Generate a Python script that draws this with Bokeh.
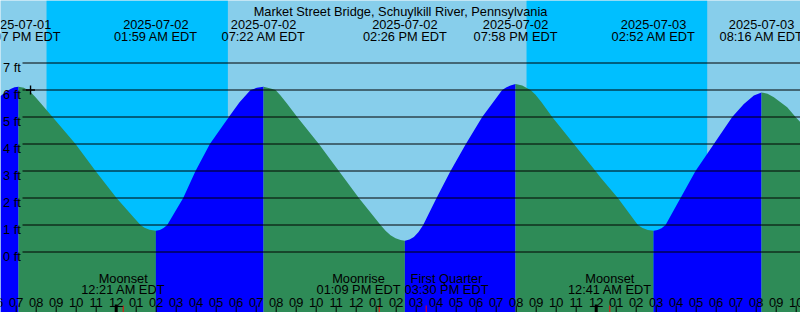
import numpy as np
import pandas as pd
from bokeh.plotting import figure
from bokeh.models import Range1d, BoxAnnotation, Label
from bokeh.core.properties import value
from bokeh.embed import file_html
from bokeh.resources import INLINE

# ---------------- data ----------------
TITLE = "Market Street Bridge, Schuylkill River, Pennsylvania"

tide_event_times = ["2025-07-01 19:07", "2025-07-02 01:59", "2025-07-02 07:22",
                    "2025-07-02 14:26", "2025-07-02 19:58", "2025-07-03 02:52",
                    "2025-07-03 08:16"]
tide_event_kinds = ["High", "Low", "High", "Low", "High", "Low", "High"]
tide_event_heights = [6.12, 0.79, 6.12, 0.42, 6.22, 0.79, 5.91]

# water level (feet)
curve_times = [
    "2025-07-01 18:13", "2025-07-01 18:28", "2025-07-01 18:43", "2025-07-01 18:55",
    "2025-07-01 19:07", "2025-07-01 19:23", "2025-07-01 19:40", "2025-07-01 19:56",
    "2025-07-01 20:13", "2025-07-01 20:31", "2025-07-01 20:49", "2025-07-01 21:58",
    "2025-07-01 22:58", "2025-07-02 00:01", "2025-07-02 00:52", "2025-07-02 01:13",
    "2025-07-02 01:25", "2025-07-02 01:40", "2025-07-02 01:59", "2025-07-02 02:11",
    "2025-07-02 02:22", "2025-07-02 02:33", "2025-07-02 03:21", "2025-07-02 03:58",
    "2025-07-02 04:41", "2025-07-02 05:38", "2025-07-02 06:10", "2025-07-02 06:43",
    "2025-07-02 07:02", "2025-07-02 07:22", "2025-07-02 07:43", "2025-07-02 07:58",
    "2025-07-02 08:13", "2025-07-02 08:31", "2025-07-02 09:03", "2025-07-02 10:08",
    "2025-07-02 11:08", "2025-07-02 12:08", "2025-07-02 13:13", "2025-07-02 13:28",
    "2025-07-02 13:43", "2025-07-02 13:58", "2025-07-02 14:13", "2025-07-02 14:26",
    "2025-07-02 14:40", "2025-07-02 14:53", "2025-07-02 15:07", "2025-07-02 15:21",
    "2025-07-02 16:01", "2025-07-02 16:43", "2025-07-02 17:29", "2025-07-02 18:18",
    "2025-07-02 19:18", "2025-07-02 19:31", "2025-07-02 19:43", "2025-07-02 19:58",
    "2025-07-02 20:18", "2025-07-02 20:43", "2025-07-02 20:58", "2025-07-02 21:16",
    "2025-07-02 21:48", "2025-07-02 22:53", "2025-07-02 23:58", "2025-07-03 00:13",
    "2025-07-03 01:05", "2025-07-03 02:05", "2025-07-03 02:19", "2025-07-03 02:35",
    "2025-07-03 02:52", "2025-07-03 03:04", "2025-07-03 03:16", "2025-07-03 03:28",
    "2025-07-03 04:13", "2025-07-03 04:58", "2025-07-03 05:53", "2025-07-03 06:48",
    "2025-07-03 07:23", "2025-07-03 07:53", "2025-07-03 08:16", "2025-07-03 08:34",
    "2025-07-03 08:53", "2025-07-03 09:33", "2025-07-03 09:58", "2025-07-03 10:13"]
curve_heights = [
    5.78, 5.93, 6.04, 6.10,
    6.12, 6.08, 5.96, 5.76,
    5.52, 5.26, 5.00, 4.00,
    3.00, 2.00, 1.29, 1.00,
    0.90, 0.82, 0.79, 0.818,
    0.885, 1.00, 2.00, 3.00,
    4.00, 5.00, 5.55, 6.00,
    6.08, 6.12, 6.06, 6.00,
    5.80, 5.52, 5.00, 4.00,
    3.00, 2.00, 1.00, 0.79,
    0.62, 0.506, 0.44, 0.42,
    0.46, 0.56, 0.74, 1.00,
    2.00, 3.00, 4.00, 5.00,
    6.00, 6.10, 6.17, 6.22,
    6.17, 6.00, 5.82, 5.55,
    5.00, 4.00, 3.00, 2.76,
    2.00, 1.00, 0.893, 0.816,
    0.79, 0.813, 0.88, 1.00,
    2.00, 3.00, 4.00, 5.00,
    5.48, 5.80, 5.91, 5.86,
    5.73, 5.36, 5.00, 4.80]

sunset_times = ["2025-07-01 20:31", "2025-07-02 20:31"]
sunrise_times = ["2025-07-02 05:35", "2025-07-03 05:33"]

moon_event_times = ["2025-07-02 00:21", "2025-07-02 13:09", "2025-07-02 15:30", "2025-07-03 00:41"]
moon_event_names = ["Moonset", "Moonrise", "First Quarter", "Moonset"]

mark_time = ["2025-07-01 19:43"]
mark_height = [6.0]

level_values = [0, 1, 2, 3, 4, 5, 6, 7]
level_labels = ["0 ft", "1 ft", "2 ft", "3 ft", "4 ft", "5 ft", "6 ft", "7 ft"]

hour_ticks = pd.date_range("2025-07-01 18:00", "2025-07-03 11:00", freq="h")
hour_labels = list(hour_ticks.strftime("%I"))

# ---------------- layout / style ----------------
W, H = 800, 312
PX_PER_HOUR = 20.0
PX_PER_FT = 27.0
ZERO_PX = 251.5
X_START = pd.Timestamp("2025-07-01 18:12:54")
X_END = X_START + pd.Timedelta(hours=W / PX_PER_HOUR)
Y_TOP = ZERO_PX / PX_PER_FT
Y_BOT = (ZERO_PX - H) / PX_PER_FT

DAY = "#87CEEB"
NIGHT = "#00BFFF"
EBB = "#2E8B57"
FLOOD = "#0000FF"
FONT = value("Liberation Sans")
FS = value("12.8px")
moon_label_shift = [0, -20.7, 20.3, 0]   # pixel nudges so neighbouring labels don't collide

p = figure(width=W, height=H,
           x_range=Range1d(X_START.to_pydatetime(), X_END.to_pydatetime()),
           y_range=Range1d(Y_BOT, Y_TOP),
           x_axis_location=None, y_axis_location=None,
           output_backend="svg", toolbar_location=None,
           min_border=0, background_fill_color=DAY, border_fill_color=DAY,
           outline_line_color=None)
p.grid.visible = False

# night bands
for s, r in zip(sunset_times, sunrise_times):
    p.add_layout(BoxAnnotation(left=pd.Timestamp(s).to_pydatetime(),
                               right=pd.Timestamp(r).to_pydatetime(),
                               fill_color=NIGHT, fill_alpha=1.0, line_color=None,
                               level="underlay"))

# tide fill, split into rising (flood) / falling (ebb) segments
ct = pd.to_datetime(curve_times)
ch = np.array(curve_heights)
et = pd.to_datetime(tide_event_times)
bounds = [X_START - pd.Timedelta(hours=2)] + list(et) + [X_END + pd.Timedelta(hours=2)]
for i in range(len(bounds) - 1):
    a, b = bounds[i], bounds[i + 1]
    m = (ct >= a) & (ct <= b)
    if m.sum() < 2:
        continue
    rising = (i < len(et)) and tide_event_kinds[i] == "High"
    p.varea(x=ct[m], y1=Y_BOT - 1, y2=ch[m], fill_color=FLOOD if rising else EBB)

# horizontal level lines
gx0 = X_START + pd.Timedelta(minutes=66)
p.segment(x0=[gx0] * len(level_values), x1=[X_END] * len(level_values),
          y0=level_values, y1=level_values, line_color="black", line_width=1)
p.text(x=[X_START] * len(level_values), y=level_values, text=level_labels,
       x_offset=2.5, y_offset=4.5, text_align="left", text_baseline="alphabetic",
       text_font=FONT, text_font_size=FS, text_color="black")

# mark
p.scatter(x=pd.to_datetime(mark_time), y=mark_height, marker="cross", size=9,
          line_color="black", line_width=1.4)

# tide event labels
p.text(x=et, y=[Y_TOP] * len(et), text=list(et.strftime("%Y-%m-%d")),
       y_offset=23.8, text_align="center", text_baseline="alphabetic",
       text_font=FONT, text_font_size=FS, text_color="black")
p.text(x=et, y=[Y_TOP] * len(et), text=list(et.strftime("%I:%M %p EDT")),
       y_offset=36, text_align="center", text_baseline="alphabetic",
       text_font=FONT, text_font_size=FS, text_color="black")

# moon events
mt = pd.to_datetime(moon_event_times)
p.text(x=mt, y=[Y_TOP] * len(mt), text=moon_event_names, x_offset=moon_label_shift,
       y_offset=278.3, text_align="center", text_baseline="alphabetic",
       text_font=FONT, text_font_size=FS, text_color="black")
p.text(x=mt, y=[Y_TOP] * len(mt), text=list(mt.strftime("%I:%M %p EDT")),
       x_offset=moon_label_shift,
       y_offset=289.3, text_align="center", text_baseline="alphabetic",
       text_font=FONT, text_font_size=FS, text_color="black")

# hour ticks and labels
tick_top = Y_BOT + 7 / PX_PER_FT
normal = [t for t in hour_ticks if t.hour != 0]
midn = [t for t in hour_ticks if t.hour == 0]
p.segment(x0=normal, x1=normal, y0=[Y_BOT] * len(normal), y1=[tick_top] * len(normal),
          line_color="black", line_width=1)
p.segment(x0=midn, x1=midn, y0=[Y_BOT] * len(midn), y1=[Y_BOT + 8 / PX_PER_FT] * len(midn),
          line_color="black", line_width=3)
p.segment(x0=mt, x1=mt, y0=[Y_BOT] * len(mt), y1=[tick_top] * len(mt),
          line_color="red", line_width=1)
p.text(x=hour_ticks, y=[Y_BOT] * len(hour_ticks), text=hour_labels,
       y_offset=-9.7, text_align="center", text_baseline="alphabetic",
       text_font=FONT, text_font_size=FS, text_color="black")

# title
p.add_layout(Label(x=W / 2, y=H - 11.0, x_units="screen", y_units="screen",
                   text=TITLE, text_align="center", text_baseline="alphabetic",
                   text_font="Liberation Sans", text_font_size="12.8px",
                   text_color="black"))

open("out.html", "w").write(file_html(p, INLINE))
